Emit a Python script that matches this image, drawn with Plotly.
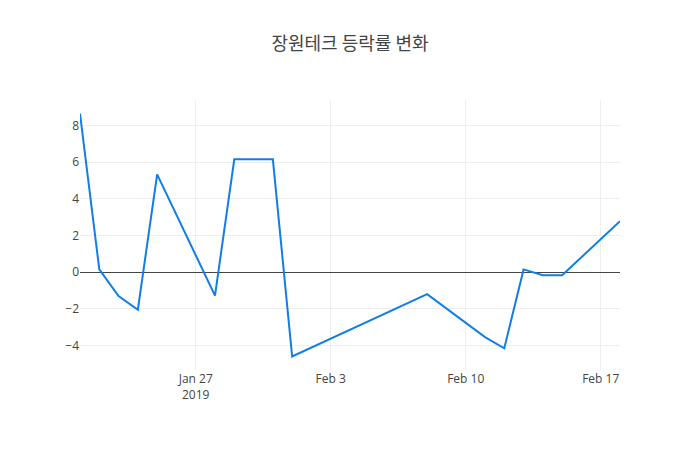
import plotly.graph_objects as go

dates = ["2019-01-21", "2019-01-22", "2019-01-23", "2019-01-24", "2019-01-25",
         "2019-01-28", "2019-01-29", "2019-01-30", "2019-01-31", "2019-02-01",
         "2019-02-08", "2019-02-11", "2019-02-12", "2019-02-13", "2019-02-14",
         "2019-02-15", "2019-02-18"]
rates = [8.65, 0.15, -1.3, -2.05, 5.33,
         -1.28, 6.15, 6.15, 6.15, -4.6,
         -1.2, -3.54, -4.15, 0.15, -0.17,
         -0.17, 2.78]

fig = go.Figure()
fig.add_trace(go.Scatter(x=dates, y=rates, mode="lines",
                         line=dict(color="#107ee6", width=2)))

fig.update_layout(
    template="none",
    width=700, height=450,
    title=dict(text="장원테크 등락률 변화", x=0.5, xanchor="center",
               font=dict(family="Noto Sans CJK KR, Open Sans", size=18, color="#444")),
    font=dict(family="Open Sans, Noto Sans CJK KR", size=12, color="#444"),
    paper_bgcolor="white", plot_bgcolor="white",
    margin=dict(l=80, r=80, t=100, b=80),
    showlegend=False,
    xaxis=dict(showgrid=True, gridcolor="#eee", zeroline=False, showline=False,
               ticks="", dtick=7 * 24 * 3600 * 1000, tick0="2019-01-27"),
    yaxis=dict(showgrid=True, gridcolor="#eee", zeroline=True, zerolinecolor="#444",
               zerolinewidth=1, showline=False, ticks="", dtick=2),
)

fig.write_html("out.html")
